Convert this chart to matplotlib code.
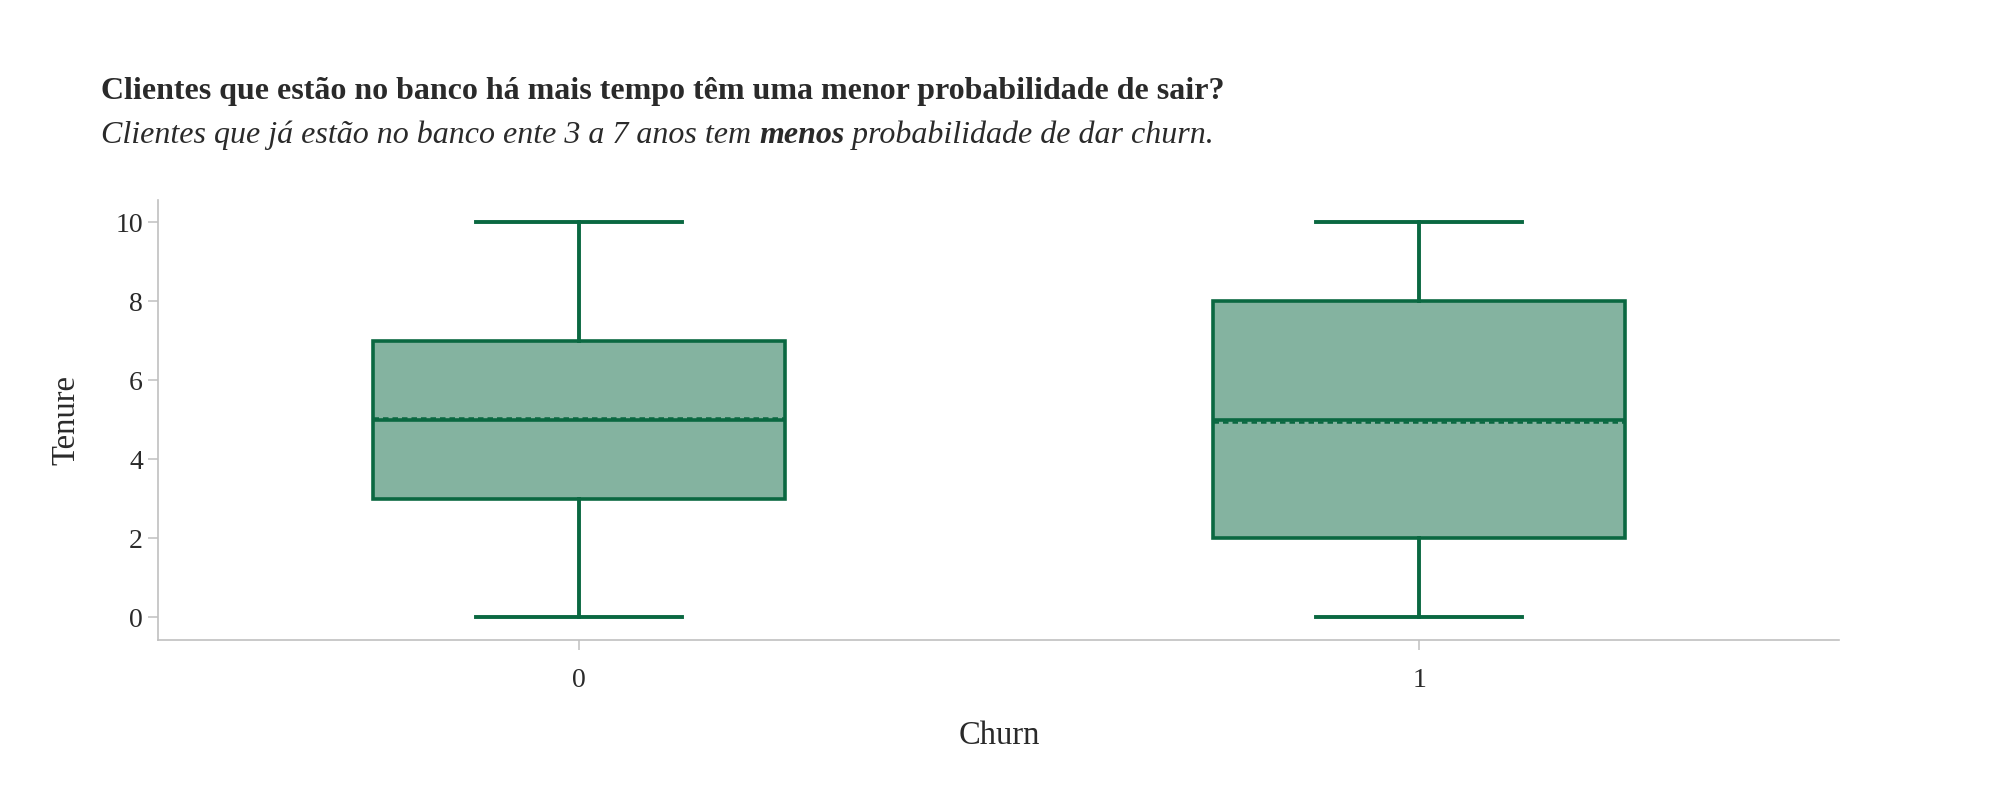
import matplotlib
matplotlib.use("Agg")
import matplotlib.pyplot as plt

# ---- data ----
categories = ["0", "1"]
q1 = [3, 2]
medians = [5, 5]
q3 = [7, 8]
whisker_low = [0, 0]
whisker_high = [10, 10]
means = [5.03, 4.93]
y_ticks = [0, 2, 4, 6, 8, 10]

title = "Clientes que estão no banco há mais tempo têm uma menor probabilidade de sair?"
subtitle_parts = ["Clientes que já estão no banco ente 3 a 7 anos tem ", "menos",
                  " probabilidade de dar churn."]

LINE = "#0a6841"
FILL = "#84b3a0"
TEXT = "#2a2a2a"
AXIS = "#c0c0c0"
FONT = ["Liberation Serif", "DejaVu Serif"]

plt.rcParams["font.family"] = FONT

fig = plt.figure(figsize=(20, 8), dpi=100)
ax = fig.add_axes([0.0792, 0.2, 0.8405, 0.55])

stats = []
for i, c in enumerate(categories):
    stats.append(dict(label=c, q1=q1[i], med=medians[i], q3=q3[i],
                      whislo=whisker_low[i], whishi=whisker_high[i],
                      mean=means[i], fliers=[]))

positions = list(range(len(categories)))
ax.bxp(stats, positions=positions, widths=0.49, capwidths=0.245,
       patch_artist=True, showmeans=True, meanline=True, showfliers=False,
       boxprops=dict(facecolor=FILL, edgecolor=LINE, linewidth=2.6),
       medianprops=dict(color=LINE, linewidth=2.6),
       whiskerprops=dict(color=LINE, linewidth=2.8),
       capprops=dict(color=LINE, linewidth=2.8),
       meanprops=dict(color=LINE, linewidth=1.8, linestyle=(0, (2.2, 1.6))))

ax.set_xlim(-0.5, 1.5)
ax.set_ylim(-0.58, 10.56)
ax.set_xticks(positions)
ax.set_xticklabels(categories)
ax.set_yticks(y_ticks)
ax.set_yticklabels([str(v) for v in y_ticks])

for s in ["top", "right"]:
    ax.spines[s].set_visible(False)
for s in ["left", "bottom"]:
    ax.spines[s].set_color(AXIS)
    ax.spines[s].set_linewidth(1.2)

ax.tick_params(axis="both", colors=AXIS, labelcolor=TEXT, labelsize=20,
               length=7.5, width=1.1)
ax.tick_params(axis="y", pad=3.5)
ax.tick_params(axis="x", pad=12.5)

ax.set_ylabel("Tenure", fontsize=23.5, color=TEXT)
ax.yaxis.set_label_coords(-0.046, 0.5)
ax.set_xlabel("Churn", fontsize=23.5, color=TEXT, va="baseline")
ax.xaxis.set_label_coords(0.5, -0.236)

# title and subtitle
fig.text(0.0505, 0.876, title, fontsize=23, fontweight="bold", color=TEXT,
         ha="left", va="baseline")

renderer = fig.canvas.get_renderer()
x = 0.0505
y = 0.821
for j, part in enumerate(subtitle_parts):
    t = fig.text(x, y, part, fontsize=23, style="italic",
                 fontweight="bold" if j == 1 else "normal",
                 color=TEXT, ha="left", va="baseline")
    bb = t.get_window_extent(renderer=renderer)
    x = bb.x1 / fig.bbox.width

fig.savefig("out.png", dpi=100, facecolor="white")
